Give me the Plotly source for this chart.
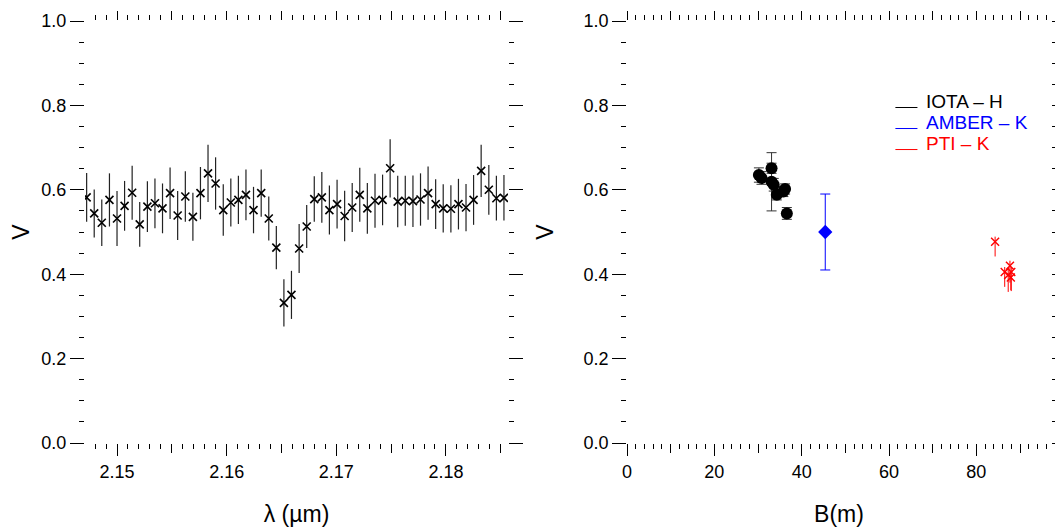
import plotly.graph_objects as go

# ---------------- data ----------------
wavelength = [2.14723, 2.14792, 2.14861, 2.14931, 2.15000, 2.15069, 2.15138, 2.15207,
              2.15277, 2.15346, 2.15415, 2.15484, 2.15553, 2.15623, 2.15692, 2.15761,
              2.15830, 2.15899, 2.15969, 2.16038, 2.16107, 2.16176, 2.16245, 2.16315,
              2.16384, 2.16453, 2.16522, 2.16591, 2.16661, 2.16730, 2.16799, 2.16868,
              2.16937, 2.17007, 2.17076, 2.17145, 2.17214, 2.17283, 2.17353, 2.17422,
              2.17491, 2.17560, 2.17629, 2.17699, 2.17768, 2.17837, 2.17906, 2.17975,
              2.18045, 2.18114, 2.18183, 2.18252, 2.18321, 2.18391, 2.18460, 2.18529]
vis_lambda = [0.582, 0.544, 0.522, 0.576, 0.532, 0.562, 0.593, 0.518,
              0.560, 0.568, 0.556, 0.592, 0.539, 0.584, 0.536, 0.592,
              0.639, 0.615, 0.552, 0.570, 0.576, 0.588, 0.552, 0.592,
              0.532, 0.463, 0.332, 0.351, 0.461, 0.513, 0.578, 0.582,
              0.552, 0.566, 0.538, 0.558, 0.588, 0.556, 0.574, 0.576,
              0.651, 0.572, 0.574, 0.573, 0.577, 0.592, 0.566, 0.556,
              0.555, 0.566, 0.558, 0.576, 0.645, 0.600, 0.580, 0.581]
err_lambda = [0.058, 0.057, 0.055, 0.063, 0.065, 0.059, 0.064, 0.053,
              0.060, 0.059, 0.059, 0.061, 0.058, 0.060, 0.057, 0.062,
              0.068, 0.062, 0.061, 0.057, 0.057, 0.060, 0.055, 0.056,
              0.052, 0.051, 0.056, 0.057, 0.058, 0.051, 0.054, 0.060,
              0.058, 0.058, 0.060, 0.058, 0.064, 0.060, 0.064, 0.060,
              0.069, 0.061, 0.059, 0.061, 0.062, 0.063, 0.059, 0.057,
              0.056, 0.060, 0.056, 0.059, 0.062, 0.059, 0.053, 0.054]

iota_B = [30.2, 30.8, 33.1, 33.1, 33.6, 34.3, 35.8, 36.2, 36.6]
iota_V = [0.635, 0.628, 0.651, 0.619, 0.612, 0.588, 0.596, 0.602, 0.544]
iota_err = [0.017, 0.015, 0.012, 0.069, 0.015, 0.012, 0.012, 0.012, 0.014]

amber_B = [45.4]
amber_V = [0.500]
amber_err = [0.090]

pti_B = [84.3, 86.5, 87.7, 87.3, 88.0, 87.9]
pti_V = [0.477, 0.405, 0.420, 0.398, 0.405, 0.392]
pti_err_up = [0.012, 0.012, 0.012, 0.012, 0.012, 0.012]
pti_err_down = [0.035, 0.035, 0.040, 0.040, 0.045, 0.030]

legend_labels = ["IOTA \u2013 H", "AMBER \u2013 K", "PTI \u2013 K"]
legend_colors = ["black", "blue", "red"]

lam_ticks = [2.150, 2.155, 2.160, 2.165, 2.170, 2.175, 2.180, 2.185]
lam_labeled = [2.15, 2.16, 2.17, 2.18]
lam_text = ["2.15", "2.16", "2.17", "2.18"]
b_ticks = [0, 10, 20, 30, 40, 50, 60, 70, 80, 90]
b_labeled = [0, 20, 40, 60, 80]
b_text = ["0", "20", "40", "60", "80"]
v_ticks = [0, 0.2, 0.4, 0.6, 0.8, 1.0]
v_text = ["0.0", "0.2", "0.4", "0.6", "0.8", "1.0"]

FONT = "Liberation Sans, Arial, sans-serif"

fig = go.Figure()

fig.add_trace(go.Scatter(
    x=wavelength, y=vis_lambda, mode="markers",
    marker=dict(symbol="x-thin", size=8, line=dict(width=1.6, color="black"), color="black"),
    error_y=dict(type="data", array=err_lambda, color="#222", thickness=1.2, width=0),
    xaxis="x", yaxis="y", showlegend=False))

fig.add_trace(go.Scatter(
    x=iota_B, y=iota_V, mode="markers",
    marker=dict(symbol="circle", size=12, color="black"),
    error_y=dict(type="data", array=iota_err, color="#333", thickness=1, width=5),
    xaxis="x2", yaxis="y2", showlegend=False))

fig.add_trace(go.Scatter(
    x=amber_B, y=amber_V, mode="markers",
    marker=dict(symbol="diamond", size=11, color="blue"),
    error_y=dict(type="data", array=amber_err, color="blue", thickness=1, width=5),
    xaxis="x2", yaxis="y2", showlegend=False))

fig.add_trace(go.Scatter(
    x=pti_B, y=pti_V, mode="markers",
    marker=dict(symbol="x-thin", size=8, line=dict(width=1.4, color="red"), color="red"),
    error_y=dict(type="data", array=pti_err_up, arrayminus=pti_err_down, color="red",
                 thickness=1, width=0),
    xaxis="x2", yaxis="y2", showlegend=False))

# empty traces so the overlay (labelled-tick) axes get drawn
fig.add_trace(go.Scatter(x=[], y=[], xaxis="x3", yaxis="y", showlegend=False, hoverinfo="skip"))
fig.add_trace(go.Scatter(x=[], y=[], xaxis="x4", yaxis="y2", showlegend=False, hoverinfo="skip"))

# legend (drawn as text + short line samples)
for i, (lab, col) in enumerate(zip(legend_labels, legend_colors)):
    yy = 0.809 - i * 0.0498
    fig.add_shape(type="line", xref="x2 domain", yref="y2 domain",
                  x0=0.633, x1=0.685, y0=yy - 0.014, y1=yy - 0.014,
                  line=dict(color=col, width=1))
    fig.add_annotation(xref="x2 domain", yref="y2 domain", x=0.70, y=yy,
                       text=lab, showarrow=False, xanchor="left", yanchor="middle",
                       font=dict(family=FONT, size=19, color=col))

tickfont = dict(family=FONT, size=18, color="black")
titlefont = dict(family=FONT, size=23, color="black")

base = dict(showline=False, showgrid=False, zeroline=False, ticks="outside",
            tickwidth=1, tickcolor="black", tickfont=tickfont, title_font=titlefont,
            automargin=False)

common_y = dict(mirror="ticks", ticklen=14, range=[0, 1], tickvals=v_ticks, ticktext=v_text,
                minor=dict(dtick=0.05, ticks="outside", ticklen=5, tickcolor="black", showgrid=False),
                title_text="V", title_standoff=23, **base)

# the page body adds an 8px offset, so margins are shifted accordingly
fig.update_layout(
    width=1063, height=531,
    margin=dict(l=77, r=20, t=13, b=96),
    plot_bgcolor="white", paper_bgcolor="white",
    # left panel: unlabeled tick axis (0.005 + 0.001 ticks, mirrored)
    xaxis=dict(domain=[0, 0.4379], range=[2.14708, 2.18566], tickvals=lam_ticks,
               showticklabels=False, anchor="y", mirror="ticks", ticklen=9,
               minor=dict(dtick=0.001, tick0=2.15, ticks="outside", ticklen=5, tickcolor="black", showgrid=False),
               **base),
    # labeled long ticks at the bottom
    xaxis3=dict(overlaying="x", range=[2.14708, 2.18566], tickvals=lam_labeled,
                ticktext=lam_text, anchor="y", side="bottom", ticklen=12,
                title_text="\u03bb (\u00b5m)", title_standoff=25, **base),
    yaxis=dict(domain=[0, 1], anchor="x", **common_y),
    xaxis2=dict(domain=[0.5611, 1], range=[0, 97.1], tickvals=b_ticks,
                showticklabels=False, anchor="y2", mirror="ticks", ticklen=9,
                minor=dict(dtick=2, tick0=0, ticks="outside", ticklen=5, tickcolor="black", showgrid=False),
                **base),
    xaxis4=dict(overlaying="x2", range=[0, 97.1], tickvals=b_labeled, ticktext=b_text,
                anchor="y2", side="bottom", ticklen=12,
                title_text="B(m)", title_standoff=25, **base),
    yaxis2=dict(domain=[0, 1], anchor="x2", **common_y),
)

fig.write_html("out.html")
